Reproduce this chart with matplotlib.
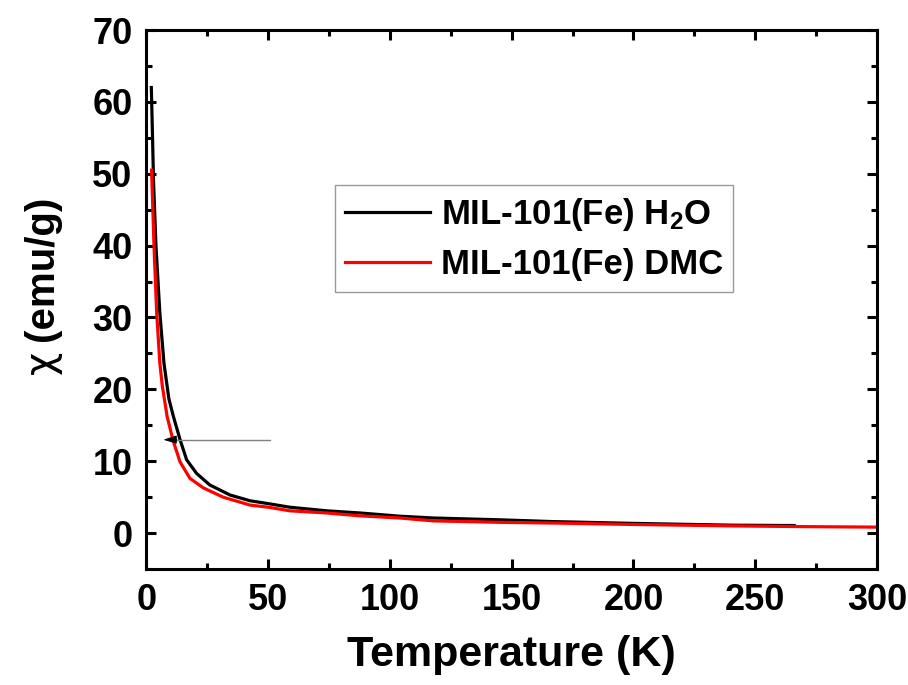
import matplotlib
matplotlib.use("Agg")
import matplotlib.pyplot as plt
from matplotlib.ticker import MultipleLocator

plt.rcParams['font.family'] = ['Liberation Sans', 'DejaVu Sans']
plt.rcParams['font.weight'] = 'bold'
plt.rcParams['mathtext.fontset'] = 'custom'
plt.rcParams['mathtext.rm'] = 'Liberation Sans:bold'
plt.rcParams['mathtext.bf'] = 'Liberation Sans:bold'
plt.rcParams['mathtext.it'] = 'Liberation Sans:bold'

# Data
T_h2o = [2.0, 2.5, 2.9, 3.9, 5.5, 7.2, 9.2, 11.0, 13.8, 16.5, 20.6, 26.0, 34.3,
         42.5, 50.0, 58.9, 74.0, 87.7, 104.0, 117.8, 145.0, 167.0, 200.0, 241.0, 266.0]
chi_h2o = [62.0, 55.0, 49.0, 40.0, 30.6, 23.6, 18.7, 16.3, 13.0, 10.2, 8.3, 6.7, 5.3,
           4.5, 4.1, 3.6, 3.1, 2.8, 2.35, 2.1, 1.85, 1.6, 1.35, 1.1, 1.05]

T_dmc = [2.1, 3.1, 4.2, 5.5, 6.5, 8.5, 11.0, 13.8, 17.9, 23.3, 31.5, 42.5, 50.0,
         58.9, 74.0, 87.7, 104.0, 117.8, 145.0, 167.0, 200.0, 241.0, 270.0, 300.0]
chi_dmc = [50.5, 39.9, 30.6, 23.6, 20.5, 16.2, 12.8, 9.9, 7.6, 6.3, 5.0, 3.9, 3.6,
           3.1, 2.8, 2.4, 2.1, 1.7, 1.5, 1.4, 1.2, 1.0, 0.9, 0.83]

labels = [r'MIL-101(Fe) H$_\mathbf{2}$O', 'MIL-101(Fe) DMC']
colors = ['#000000', '#ff0000']

arrow_T_start = 50.8
arrow_T_end = 6.9
arrow_chi = 13.0

W, H = 908, 685
fig = plt.figure(figsize=(W / 100, H / 100), dpi=100)
ax = fig.add_axes([0.1613, 0.1693, 0.8045, 0.7869])

ax.plot(T_h2o, chi_h2o, color=colors[0], lw=2.3, label=labels[0])
ax.plot(T_dmc, chi_dmc, color=colors[1], lw=2.3, label=labels[1])

# arrow
ax.plot([arrow_T_start, arrow_T_end + 5.5], [arrow_chi, arrow_chi], color='#808080', lw=1.0)
ax.annotate('', xy=(arrow_T_end, arrow_chi), xytext=(arrow_T_end + 5.6, arrow_chi),
            arrowprops=dict(arrowstyle='-|>,head_length=0.8,head_width=0.25',
                            color='black', lw=0.8, shrinkA=0, shrinkB=0))

ax.set_xlim(0, 300)
ax.set_ylim(-5, 70)
ax.xaxis.set_major_locator(MultipleLocator(50))
ax.xaxis.set_minor_locator(MultipleLocator(25))
ax.yaxis.set_major_locator(MultipleLocator(10))
ax.yaxis.set_minor_locator(MultipleLocator(5))

for s in ax.spines.values():
    s.set_linewidth(2.2)

ax.tick_params(which='both', direction='in', top=True, right=True, width=2.2)
ax.tick_params(which='major', length=7.5)
ax.tick_params(which='minor', length=4.5)
ax.tick_params(axis='x', which='major', labelsize=26, pad=10)
ax.tick_params(axis='y', which='major', labelsize=26, pad=10)
for lab in ax.get_xticklabels() + ax.get_yticklabels():
    lab.set_fontweight('bold')

ax.set_xlabel('Temperature (K)', fontsize=31, fontweight='bold', labelpad=12)

# y label: regular-weight chi + bold unit text
fig.text(53 / W, 1 - 374 / H, 'χ', rotation=90, rotation_mode='anchor',
         ha='left', va='baseline', fontsize=29, fontweight='normal',
         family=['DejaVu Sans'])
fig.text(53 / W, 1 - 196 / H, '(emu/g)', rotation=90, rotation_mode='anchor',
         ha='right', va='baseline', fontsize=29, fontweight='bold')

leg = ax.legend(loc='upper left', bbox_to_anchor=(0.258, 0.712), borderaxespad=0,
                frameon=True, fancybox=False, handlelength=2.45,
                handletextpad=0.3, labelspacing=0.45, borderpad=0.3,
                prop={'weight': 'bold', 'size': 25})
leg.get_frame().set_edgecolor('#808080')
leg.get_frame().set_linewidth(1.0)

fig.savefig('out.png', dpi=100)
